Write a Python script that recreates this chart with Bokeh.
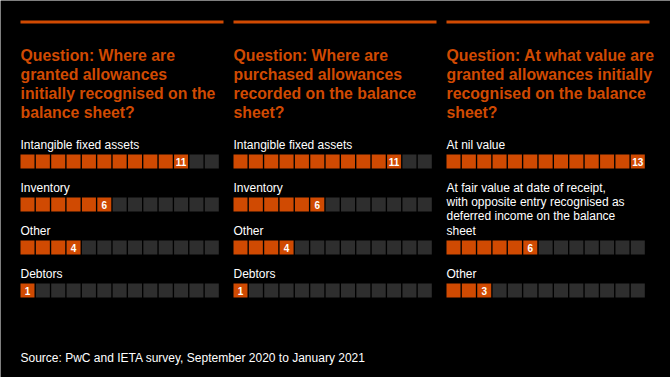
from bokeh.plotting import figure
from bokeh.models import Range1d, ColumnDataSource
from bokeh.core.properties import value
from bokeh.embed import file_html
from bokeh.resources import INLINE

# ---- data ----
titles = [
    ["Question: Where are", "granted allowances", "initially recognised on the", "balance sheet?"],
    ["Question: Where are", "purchased allowances", "recorded on the balance", "sheet?"],
    ["Question: At what value are", "granted allowances initially", "recognised on the balance", "sheet?"],
]
p1_categories = ["Intangible fixed assets", "Inventory", "Other", "Debtors"]
p1_values = [11, 6, 4, 1]
p2_categories = ["Intangible fixed assets", "Inventory", "Other", "Debtors"]
p2_values = [11, 6, 4, 1]
p3_categories = ["At nil value",
                 "At fair value at date of receipt,\nwith opposite entry recognised as\ndeferred income on the balance\nsheet",
                 "Other"]
p3_values = [13, 6, 3]
total_squares = 13
source_text = "Source: PwC and IETA survey, September 2020 to January 2021"

panels = [(p1_categories, p1_values), (p2_categories, p2_values), (p3_categories, p3_values)]

# ---- layout (styles / positions) ----
ORANGE = "#d04a02"
GREY = "#2e2e2e"
FONT = "Liberation Sans"
panel_x0 = [20, 233, 446]
panel_w = 203
sq_w = 14
sq_h = 14
pitch = (198.3 - sq_w) / 12
row_tops = [154, 197, 240, 283]
row_slots = [[0, 1, 2, 3], [0, 1, 2, 3], [0, 2, 3]]
title_baselines = [55, 74.2, 93.3, 112.3]

p = figure(width=670, height=377, output_backend="svg", toolbar_location=None,
           x_range=Range1d(0, 670), y_range=Range1d(377, 0), min_border=0)
p.background_fill_color = "black"
p.border_fill_color = "black"
p.outline_line_color = None
p.axis.visible = False
p.grid.visible = False

# top rules
p.quad(left=panel_x0, right=[x + panel_w for x in panel_x0], top=[20] * 3, bottom=[23] * 3,
       fill_color=ORANGE, line_color=None)

# titles
tx, ty, tt = [], [], []
for i, lines in enumerate(titles):
    for j, line in enumerate(lines):
        tx.append(panel_x0[i]); ty.append(title_baselines[j]); tt.append(line)
p.text(x=tx, y=ty, text=tt, text_color=ORANGE, text_font=value(FONT), text_font_size="15.8px",
       text_font_style="bold", text_baseline="alphabetic", text_align="left")

sq = dict(left=[], right=[], top=[], bottom=[], color=[])
lab = dict(x=[], y=[], text=[])
num = dict(x=[], y=[], text=[])
for i, (cats, vals) in enumerate(panels):
    for k, (c, v) in enumerate(zip(cats, vals)):
        top = row_tops[row_slots[i][k]]
        for s in range(total_squares):
            l = panel_x0[i] + s * pitch
            sq["left"].append(l); sq["right"].append(l + sq_w)
            sq["top"].append(top); sq["bottom"].append(top + sq_h)
            sq["color"].append(ORANGE if s < v else GREY)
        lx = panel_x0[i] + (v - 1) * pitch + sq_w / 2
        num["x"].append(lx); num["y"].append(top + sq_h / 2 + 0.5); num["text"].append(str(v))
        lines = c.split("\n")
        n = len(lines)
        for j, line in enumerate(lines):
            lab["x"].append(panel_x0[i])
            lab["y"].append(top - 10 - (n - 1 - j) * 14.1)
            lab["text"].append(line)

p.quad(source=ColumnDataSource(sq), left="left", right="right", top="top", bottom="bottom",
       fill_color="color", line_color=None)
p.text(source=ColumnDataSource(lab), x="x", y="y", text="text", text_color="white",
       text_font=value(FONT), text_font_size="12px", text_baseline="alphabetic", text_align="left")
p.text(source=ColumnDataSource(num), x="x", y="y", text="text", text_color="white",
       text_font=value(FONT), text_font_size="10px", text_font_style="bold",
       text_baseline="middle", text_align="center")
p.text(x=[20], y=[357.3], text=[source_text], text_color="white", text_font=value(FONT),
       text_font_size="12px", text_baseline="alphabetic", text_align="left")

open("out.html", "w").write(file_html(p, INLINE))
